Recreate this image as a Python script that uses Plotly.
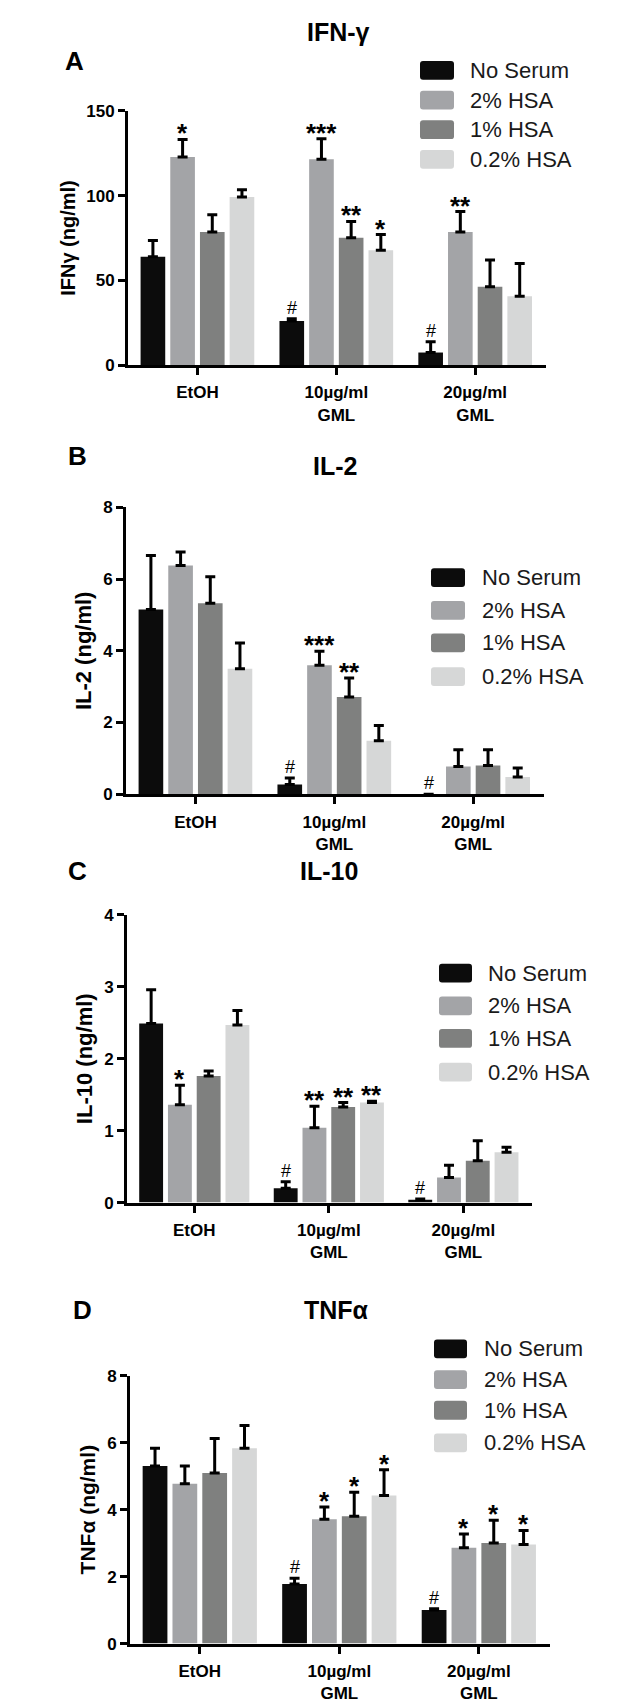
import plotly.graph_objects as go

W, H = 630, 1700

# ---------------- data ----------------
categories = ["EtOH", "10µg/ml<br>GML", "20µg/ml<br>GML"]
series = ["No Serum", "2% HSA", "1% HSA", "0.2% HSA"]
colors = ["#0c0c0c", "#a3a4a7", "#7f807f", "#d6d7d7"]

# Panel A: IFN-γ (rows = series, columns = categories)
ifn_mean = [[64.0, 26.0, 7.4], [122.8, 121.5, 78.6], [78.6, 75.1, 46.2], [99.2, 67.8, 40.6]]
ifn_sem = [[9.5, 1.3, 6.3], [10.4, 12.1, 12.0], [10.1, 9.7, 15.8], [4.3, 9.2, 19.4]]
ifn_sig = [["", "#", "#"], ["*", "***", "**"], ["", "**", ""], ["", "*", ""]]

# Panel B: IL-2
il2_mean = [[5.15, 0.27, 0.0], [6.38, 3.60, 0.77], [5.33, 2.71, 0.80], [3.50, 1.49, 0.48]]
il2_sem = [[1.51, 0.18, None], [0.38, 0.39, 0.47], [0.74, 0.53, 0.44], [0.72, 0.43, 0.25]]
il2_sig = [["", "#", "#"], ["", "***", ""], ["", "**", ""], ["", "", ""]]

# Panel C: IL-10
il10_mean = [[2.49, 0.20, 0.04], [1.36, 1.04, 0.35], [1.76, 1.33, 0.58], [2.47, 1.39, 0.70]]
il10_sem = [[0.47, 0.09, 0.01], [0.27, 0.30, 0.17], [0.07, 0.06, 0.28], [0.20, 0.02, 0.07]]
il10_sig = [["", "#", "#"], ["*", "**", ""], ["", "**", ""], ["", "**", ""]]

# Panel D: TNFα
tnf_mean = [[5.30, 1.78, 1.00], [4.77, 3.71, 2.86], [5.09, 3.80, 3.00], [5.83, 4.42, 2.96]]
tnf_sem = [[0.53, 0.17, 0.04], [0.53, 0.37, 0.41], [1.03, 0.72, 0.68], [0.68, 0.77, 0.42]]
tnf_sig = [["", "#", "#"], ["", "*", "*"], ["", "*", "*"], ["", "*", "*"]]

# ---------------- layout (pixel geometry) ----------------
FONT = "Liberation Sans, Arial, Helvetica, sans-serif"
BARGAP = 0.145
BARGROUPGAP = 0.17

panels = [
    dict(mean=ifn_mean, sem=ifn_sem, sig=ifn_sig, title="IFN-γ", letter="A", ytitle="IFNγ (ng/ml)",
         yrange=[0, 150], dtick=50, px_x=(120, 538), px_y=(95, 352), title_xy=(330, 15), letter_xy=(55, 44),
         leg_box=(412, 446), leg_text=460, leg_rows=[54, 84, 114, 144], ytsize=20),
    dict(mean=il2_mean, sem=il2_sem, sig=il2_sig, title="IL-2", letter="B", ytitle="IL-2 (ng/ml)",
         yrange=[0, 8], dtick=2, px_x=(118, 536), px_y=(496, 786), title_xy=(327, 454), letter_xy=(58, 444),
         leg_box=(423, 457), leg_text=472, leg_rows=[567, 600, 633, 667], ytsize=22),
    dict(mean=il10_mean, sem=il10_sem, sig=il10_sig, title="IL-10", letter="C", ytitle="IL-10 (ng/ml)",
         yrange=[0, 4], dtick=1, px_x=(119, 524), px_y=(908, 1199), title_xy=(321, 864), letter_xy=(58, 864),
         leg_box=(431, 464), leg_text=478, leg_rows=[967, 1000, 1033, 1067], ytsize=22),
    dict(mean=tnf_mean, sem=tnf_sem, sig=tnf_sig, title="TNFα", letter="D", ytitle="TNFα (ng/ml)",
         yrange=[0, 8], dtick=2, px_x=(122, 542), px_y=(1374, 1645), title_xy=(328, 1308), letter_xy=(63, 1308),
         leg_box=(426, 459), leg_text=474, leg_rows=[1347, 1378, 1409, 1442], ytsize=21),
]


def fx(px):
    return px / W


def fy(py):
    return 1 - py / H


fig = go.Figure()
annotations = []
shapes = []
slot = (1 - BARGAP) / len(series)

for k, p in enumerate(panels, start=1):
    xa = "x" if k == 1 else f"x{k}"
    ya = "y" if k == 1 else f"y{k}"
    for j, name in enumerate(series):
        errs = p["sem"][j]
        fig.add_trace(go.Bar(
            x=categories, y=p["mean"][j], name=name,
            marker=dict(color=colors[j], line=dict(width=0)),
            error_y=dict(type="data", symmetric=False, array=errs, arrayminus=[0] * len(errs),
                         color="#000000", thickness=3, width=5),
            xaxis=xa, yaxis=ya, showlegend=False,
        ))
        # significance marks
        for c in range(len(categories)):
            s = p["sig"][j][c]
            if not s:
                continue
            top = p["mean"][j][c] + (errs[c] if errs[c] is not None else 0)
            is_hash = s.startswith("#")
            annotations.append(dict(
                x=c + (j - 1.5) * slot, y=top, xref=xa, yref=ya, text=s, showarrow=False,
                xanchor="center", yanchor="middle", yshift=11 if is_hash else 6,
                font=dict(family=FONT, size=18 if is_hash else 26, color="#000000",
                          weight="normal" if is_hash else "bold"),
            ))

    axis_common = dict(showline=True, linewidth=3, linecolor="#000000", ticks="outside", ticklen=7,
                       tickwidth=3, tickcolor="#000000", showgrid=False, zeroline=False)
    fig.update_layout(**{
        ("xaxis" if k == 1 else f"xaxis{k}"): dict(
            domain=[fx(p["px_x"][0]), fx(p["px_x"][1])], anchor=ya, type="category",
            range=[-0.5, 2.51], ticklabelstandoff=3,
            tickfont=dict(family=FONT, size=17, color="#000000", weight="bold"), **axis_common),
        ("yaxis" if k == 1 else f"yaxis{k}"): dict(
            domain=[fy(p["px_y"][1]), fy(p["px_y"][0])], anchor=xa, range=p["yrange"], dtick=p["dtick"],
            tickfont=dict(family=FONT, size=17, color="#000000", weight="bold"),
            title=dict(text=p["ytitle"], standoff=6,
                       font=dict(family=FONT, size=p["ytsize"], color="#000000", weight="bold")),
            **axis_common),
    })

    # panel title and letter
    annotations.append(dict(x=fx(p["title_xy"][0]), y=fy(p["title_xy"][1]), xref="paper", yref="paper",
                            text=p["title"], showarrow=False, xanchor="center", yanchor="middle",
                            font=dict(family=FONT, size=25, color="#000000", weight="bold")))
    annotations.append(dict(x=fx(p["letter_xy"][0]), y=fy(p["letter_xy"][1]), xref="paper", yref="paper",
                            text=p["letter"], showarrow=False, xanchor="left", yanchor="middle",
                            font=dict(family=FONT, size=26, color="#000000", weight="bold")))

    # legend (rounded swatches + labels)
    bx0, bx1 = p["leg_box"]
    for j, name in enumerate(series):
        cy = p["leg_rows"][j]
        y0p, y1p = cy - 9.5, cy + 9.5
        r = 3
        X0, X1 = fx(bx0), fx(bx1)
        Y0, Y1 = fy(y1p), fy(y0p)
        rx, ry = r / W, r / H
        path = (f"M{X0 + rx},{Y0} L{X1 - rx},{Y0} Q{X1},{Y0} {X1},{Y0 + ry} L{X1},{Y1 - ry} "
                f"Q{X1},{Y1} {X1 - rx},{Y1} L{X0 + rx},{Y1} Q{X0},{Y1} {X0},{Y1 - ry} "
                f"L{X0},{Y0 + ry} Q{X0},{Y0} {X0 + rx},{Y0} Z")
        shapes.append(dict(type="path", path=path, xref="paper", yref="paper",
                           fillcolor=colors[j], line=dict(width=0)))
        annotations.append(dict(x=fx(p["leg_text"]), y=fy(cy), xref="paper", yref="paper", text=name,
                                showarrow=False, xanchor="left", yanchor="middle",
                                font=dict(family=FONT, size=22, color="#1a1a1a")))

fig.update_layout(
    width=W, height=H, autosize=False,
    margin=dict(l=0, r=0, t=0, b=0),
    paper_bgcolor="#ffffff", plot_bgcolor="#ffffff",
    barmode="group", bargap=BARGAP, bargroupgap=BARGROUPGAP,
    annotations=annotations, shapes=shapes,
    font=dict(family=FONT, color="#000000"),
)

fig.write_html("out.html")
